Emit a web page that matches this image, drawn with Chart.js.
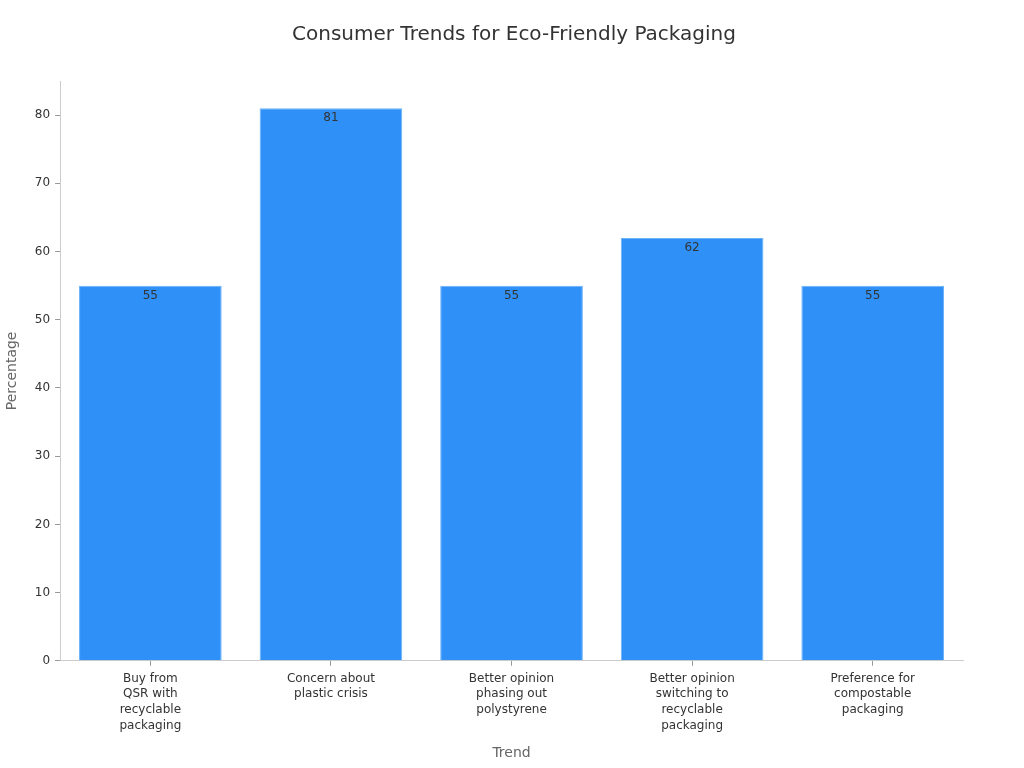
<!DOCTYPE html>
<html>
<head>
<meta charset="utf-8">
<title>Consumer Trends for Eco-Friendly Packaging</title>
<script src="https://cdn.jsdelivr.net/npm/chart.js@4"></script>
<style>
  html, body { margin: 0; padding: 0; background: #fff; }
  #wrap { width: 1024px; height: 768px; }
</style>
</head>
<body>
<div id="wrap"><canvas id="chart" width="1024" height="768"></canvas></div>
<script>
  // Chart data
  const trendLabels = [
    ['Buy from', 'QSR with', 'recyclable', 'packaging'],
    ['Concern about', 'plastic crisis'],
    ['Better opinion', 'phasing out', 'polystyrene'],
    ['Better opinion', 'switching to', 'recyclable', 'packaging'],
    ['Preference for', 'compostable', 'packaging']
  ];
  const percentValues = [55, 81, 55, 62, 55];
  const yTicks = [0, 10, 20, 30, 40, 50, 60, 70, 80];

  const FONT = "'DejaVu Sans', sans-serif";

  // values printed just inside the top of each bar
  const barValueLabels = {
    id: 'barValueLabels',
    afterDatasetsDraw(chart) {
      const ctx = chart.ctx;
      const meta = chart.getDatasetMeta(0);
      ctx.save();
      ctx.font = '12px ' + FONT;
      ctx.fillStyle = '#333333';
      ctx.textAlign = 'center';
      ctx.textBaseline = 'middle';
      meta.data.forEach((bar, i) => {
        ctx.fillText(String(percentValues[i]), bar.x, bar.y + 10);
      });
      ctx.restore();
    }
  };

  new Chart(document.getElementById('chart'), {
    type: 'bar',
    data: {
      labels: trendLabels,
      datasets: [{
        label: 'Percentage',
        data: percentValues,
        backgroundColor: '#2f91f7',
        borderColor: '#6ab2fa',
        borderWidth: 1,
        barPercentage: 0.79,
        categoryPercentage: 1
      }]
    },
    options: {
      responsive: false,
      animation: false,
      layout: { padding: { left: 4, right: 0, top: 0, bottom: 6 } },
      plugins: {
        legend: { display: false },
        tooltip: { enabled: false },
        title: {
          display: true,
          text: 'Consumer Trends for Eco-Friendly Packaging',
          color: '#333333',
          font: { family: FONT, size: 20, weight: 'normal' },
          padding: { top: 23, bottom: 34 }
        }
      },
      scales: {
        x: {
          grid: { display: true, drawOnChartArea: false, offset: false, color: '#999999', tickLength: 5 },
          border: { color: '#cccccc' },
          ticks: { color: '#333333', font: { family: FONT, size: 12, lineHeight: 1.3 }, padding: 5, maxRotation: 0 },
          title: {
            display: true,
            text: 'Trend',
            color: '#666666',
            font: { family: FONT, size: 14 },
            padding: { top: 7, bottom: 0 }
          }
        },
        y: {
          min: 0,
          max: 85,
          afterBuildTicks: axis => { axis.ticks = yTicks.map(v => ({ value: v })); },
          grid: { display: true, drawOnChartArea: false, color: '#999999', tickLength: 5 },
          border: { color: '#cccccc' },
          ticks: { color: '#333333', font: { family: FONT, size: 12 }, padding: 5 },
          title: {
            display: true,
            text: 'Percentage',
            color: '#666666',
            font: { family: FONT, size: 14 },
            padding: { top: 0, bottom: 9 }
          }
        },
        // empty right margin so the title stays centred on the page
        yRight: {
          position: 'right',
          display: true,
          grid: { display: false },
          border: { display: false },
          ticks: { display: false },
          afterFit: axis => { axis.width = 61; }
        }
      }
    },
    plugins: [barValueLabels]
  });
</script>
</body>
</html>
